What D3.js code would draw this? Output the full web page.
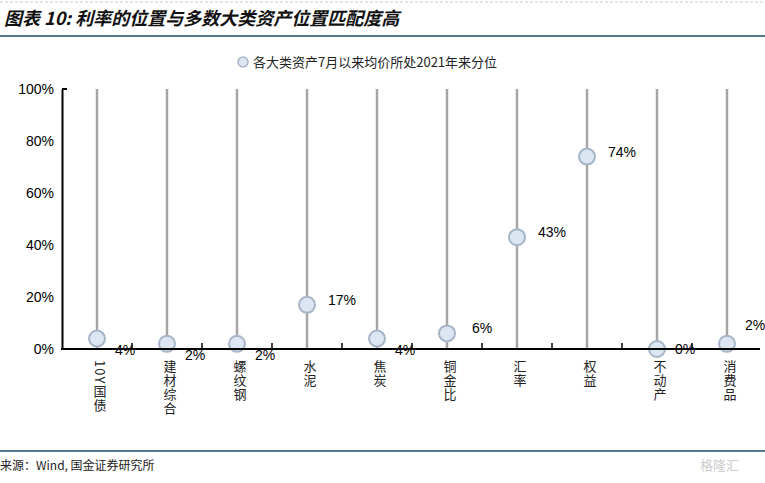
<!DOCTYPE html><html><head><meta charset="utf-8">
<script src="https://cdn.jsdelivr.net/npm/d3@7"></script>
<style>body{margin:0;background:#fff;font-family:"Liberation Sans","Noto Sans CJK SC",sans-serif}</style></head><body>
<svg id="c" width="765" height="483"></svg>
<script>
const categories=["10Y国债","建材综合","螺纹钢","水泥","焦炭","铜金比","汇率","权益","不动产","消费品"];
const values=[4,2,2,17,4,6,43,74,0,2];
const yTicks=[0,20,40,60,80,100];
const svg=d3.select("#c");
svg.append("line").attr("x1",0).attr("x2",765).attr("y1",2).attr("y2",2).attr("stroke","#ccc").attr("stroke-dasharray","3,2");
svg.append("text").attr("x",4).attr("y",25).text("图表 10: 利率的位置与多数大类资产位置匹配度高")
 .attr("font-size",18).attr("font-weight","bold").attr("font-style","italic").attr("fill","#111").attr("font-family","Noto Sans CJK SC");
svg.append("line").attr("x1",0).attr("x2",765).attr("y1",36).attr("y2",36).attr("stroke","#1d4f6e").attr("stroke-width",1.5);
svg.append("circle").attr("cx",243).attr("cy",62).attr("r",5).attr("fill","#dce6f2").attr("stroke","#a6b4c8").attr("stroke-width",1.5);
svg.append("text").attr("x",253).attr("y",67).text("各大类资产7月以来均价所处2021年来分位").attr("font-size",13).attr("fill","#222").attr("font-family","Noto Sans CJK SC");
const x=d3.scalePoint().domain(categories).range([97,727]);
const y=d3.scaleLinear().domain([0,100]).range([349,89]);
const g=svg.append("g");
g.selectAll(".v").data(categories).join("line").attr("x1",d=>x(d)).attr("x2",d=>x(d)).attr("y1",y(100)).attr("y2",y(0)).attr("stroke","#a6a6a6").attr("stroke-width",2.5);
const ya=svg.append("g").attr("transform","translate(62,0)").call(d3.axisLeft(y).tickValues(yTicks).tickFormat(d=>d+"%").tickSize(0).tickPadding(8));
ya.select(".domain").attr("stroke","#000").attr("stroke-width",2);
ya.selectAll("text").attr("font-size",14).attr("fill","#000").attr("font-family","Liberation Sans");
svg.append("line").attr("x1",61).attr("x2",760).attr("y1",349).attr("y2",349).attr("stroke","#000").attr("stroke-width",2);
svg.append("line").attr("x1",62).attr("x2",67).attr("y1",89).attr("y2",89).attr("stroke","#000").attr("stroke-width",2);
const bounds=categories.map((d,i)=>x(d)+35).slice(0,9);
svg.selectAll(".tk").data(bounds).join("line").attr("x1",d=>d).attr("x2",d=>d).attr("y1",343).attr("y2",349).attr("stroke","#000").attr("stroke-width",1.5);
categories.forEach(c=>{
 svg.append("text").attr("x",x(c)+3).attr("y",360).text(c).attr("font-size",13).attr("fill","#222")
  .attr("font-family","Noto Sans CJK SC").style("writing-mode","vertical-rl").attr("letter-spacing",1);
});
const pts=categories.map((c,i)=>({c,v:values[i],i}));
g.selectAll(".p").data(pts).join("circle").attr("cx",d=>x(d.c)).attr("cy",d=>y(d.v)).attr("r",8)
 .attr("fill","#dce6f2").attr("stroke","#a6b4c8").attr("stroke-width",2);
g.selectAll(".l").data(pts).join("text").attr("x",d=>x(d.c)+(d.v<5?28:35)).attr("y",d=>y(d.v)+(d.i==9?-14:(d.v<5?(d.v==0?5:16):0)))
 .text(d=>d.v+"%").attr("font-size",14).attr("fill","#000").attr("text-anchor","middle").attr("font-family","Liberation Sans");
svg.append("line").attr("x1",0).attr("x2",765).attr("y1",451).attr("y2",451).attr("stroke","#1d4f6e").attr("stroke-width",1.5);
svg.append("text").attr("x",0).attr("y",470).text("来源：Wind, 国金证券研究所").attr("font-size",12).attr("fill","#222").attr("font-family","Noto Sans CJK SC");
svg.append("text").attr("x",700).attr("y",470).text("格隆汇").attr("font-size",13).attr("fill","#ccc").attr("font-family","Noto Sans CJK SC");
</script></body></html>
